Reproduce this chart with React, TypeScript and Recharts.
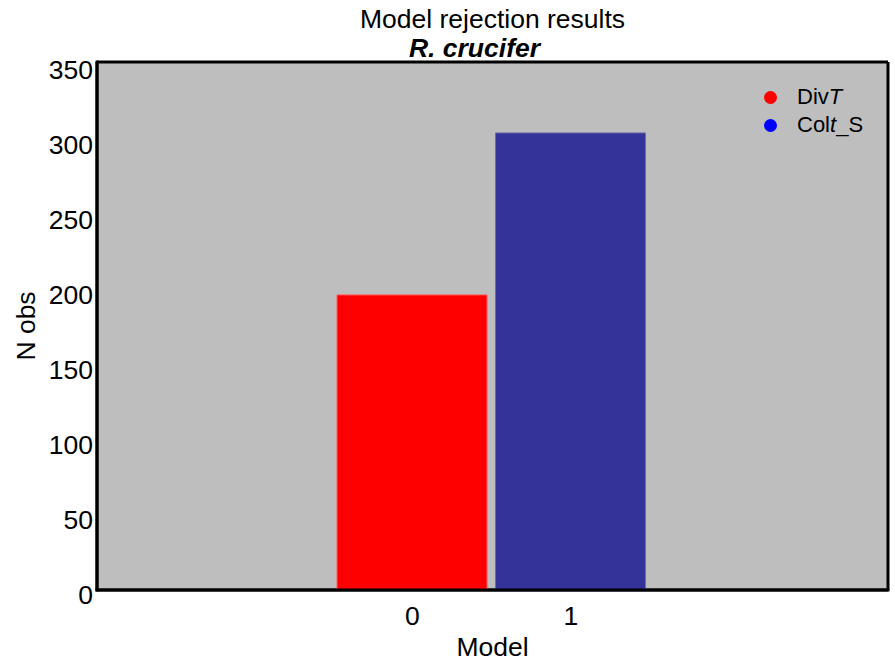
import { BarChart, Bar, XAxis, YAxis, CartesianGrid } from "recharts";

// categories and series values
const models = ["0", "1"];
const divT = [200, null];
const coltS = [null, 308];
const yTicks = [0, 50, 100, 150, 200, 250, 300, 350];
const legendNames = ["DivT", "Colt_S"];
const legendColors = ["#ff0000", "#0000ff"];

const chartData = models.map((m, i) => ({
  model: m,
  DivT: divT[i],
  Colt_S: coltS[i],
}));

const FONT = "'Liberation Sans', Arial, sans-serif";
const FS = 26.5;

function LegendBox() {
  return (
    <div
      style={{
        position: "absolute",
        top: 83,
        left: 764,
        fontFamily: FONT,
        fontSize: 22,
        color: "#000",
        lineHeight: "28px",
      }}
    >
      {legendNames.map((name, i) => (
        <div key={name} style={{ display: "flex", alignItems: "center" }}>
          <span
            style={{
              display: "inline-block",
              width: 13,
              height: 13,
              borderRadius: 7,
              background: legendColors[i],
              marginRight: 20,
            }}
          />
          {name === "DivT" ? (
            <span>
              Div<i>T</i>
            </span>
          ) : (
            <span>
              Col<i>t</i>_S
            </span>
          )}
        </div>
      ))}
    </div>
  );
}

// border of the plot panel, drawn on the plot area edges
const edgeRows = ({ offset }: any) => [offset.top, offset.top + offset.height];
const edgeCols = ({ offset }: any) => [offset.left, offset.left + offset.width];

export default function App() {
  const tickStyle = { fill: "#000", fontSize: FS, fontFamily: FONT };
  return (
    <div style={{ position: "fixed", left: 0, top: 0, width: 895, height: 663, background: "#fff" }}>
      <div
        style={{
          position: "absolute",
          left: 97,
          width: 791,
          top: 5,
          textAlign: "center",
          fontFamily: FONT,
          fontSize: FS,
          lineHeight: "29px",
          color: "#000",
        }}
      >
        <div>Model rejection results</div>
        <div style={{ fontWeight: "bold", fontStyle: "italic", marginLeft: -36 }}>R. crucifer</div>
      </div>
      <BarChart
        width={895}
        height={663}
        data={chartData}
        margin={{ top: 62, right: 7, bottom: 0, left: 0 }}
      >
        <CartesianGrid fill="#bebebe" horizontal={false} vertical={false} />
        <CartesianGrid
          stroke="#000"
          strokeWidth={3}
          horizontalCoordinatesGenerator={edgeRows}
          verticalCoordinatesGenerator={edgeCols}
        />
        <XAxis
          dataKey="model"
          height={73}
          padding={{ left: 236, right: 238 }}
          tickLine={false}
          tickSize={0}
          tickMargin={16}
          tick={tickStyle}
          axisLine={{ stroke: "#000", strokeWidth: 3, strokeLinecap: "square" }}
          label={{
            value: "Model",
            position: "insideBottom",
            offset: 7,
            style: { fill: "#000", fontSize: FS, fontFamily: FONT },
          }}
        />
        <YAxis
          width={97}
          type="number"
          domain={[3.3, 355.3]}
          allowDataOverflow
          ticks={yTicks}
          interval={0}
          tickLine={false}
          tickSize={0}
          tickMargin={4}
          tick={tickStyle}
          axisLine={{ stroke: "#000", strokeWidth: 3, strokeLinecap: "square" }}
          label={{
            value: "N obs",
            angle: -90,
            position: "insideLeft",
            offset: 26,
            style: { textAnchor: "middle", fill: "#000", fontSize: FS, fontFamily: FONT },
          }}
        />
        <Bar
          dataKey="DivT"
          stackId="a"
          fill="#ff0000"
          stroke="#ff5a5a"
          strokeWidth={1}
          barSize={150}
          isAnimationActive={false}
        />
        <Bar
          dataKey="Colt_S"
          stackId="a"
          fill="#333399"
          stroke="#6a6aae"
          strokeWidth={1}
          barSize={150}
          isAnimationActive={false}
        />
      </BarChart>
      <LegendBox />
    </div>
  );
}
